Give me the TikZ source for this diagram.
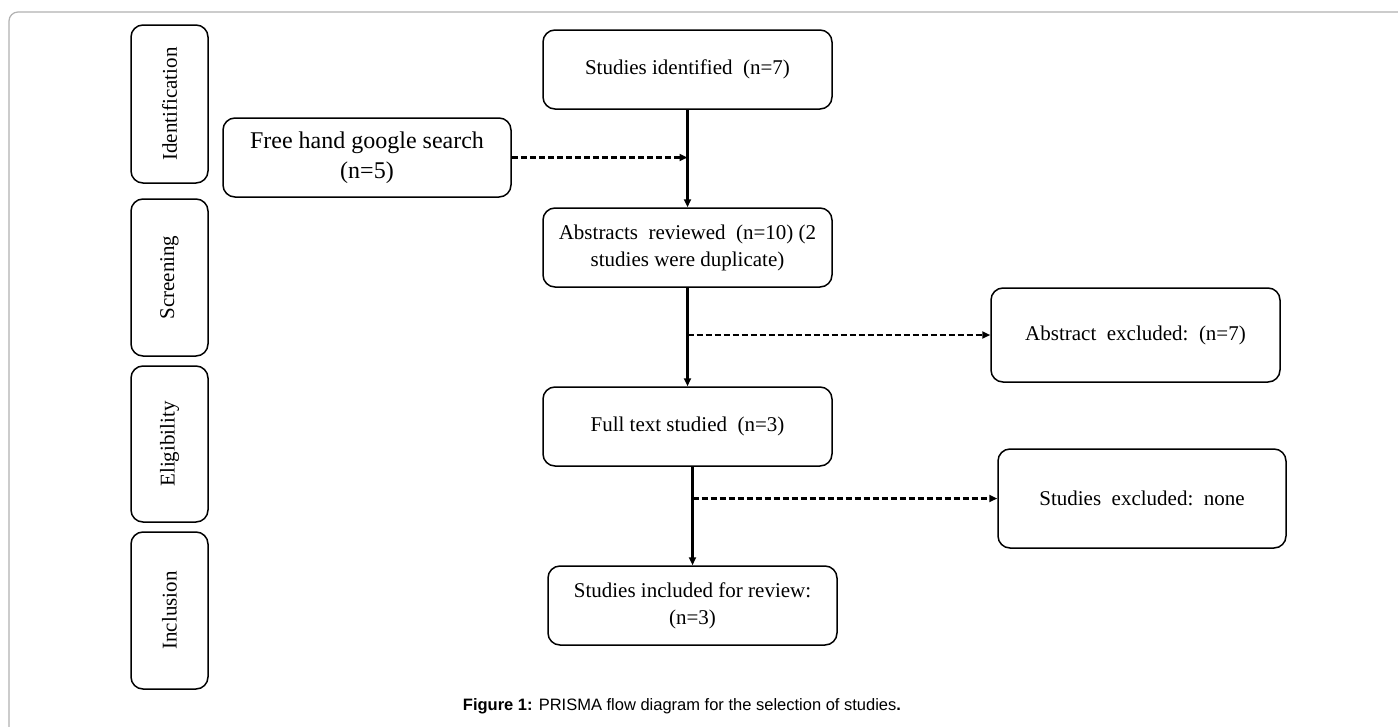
\documentclass[tikz,border=0pt]{standalone}
\usepackage{fontspec}
\setmainfont{Liberation Serif}
\newfontfamily\capfont{Liberation Sans}
\usetikzlibrary{arrows.meta,calc}
\tikzset{
  boxshape/.style={draw=black, line width=1.5pt, rounded corners=12pt, align=center, inner sep=2pt,
    font=\fontsize{21}{27}\selectfont},
  phase/.style={boxshape, minimum width=77pt},
  phasetext/.style={rotate=90, font=\fontsize{21}{27}\selectfont},
  flowline/.style={line width=2.3pt, -{Triangle[length=8pt,width=7pt]}},
  dashline/.style={line width=2.4pt, dash pattern=on 6pt off 3pt, -{Triangle[length=8pt,width=7pt]}}
}
\begin{document}
\begin{tikzpicture}[x=1pt,y=-1pt]
\useasboundingbox (0,0) rectangle (1398,726);
\fill[white] (0,0) rectangle (1398,726);
\draw[gray!60, line width=1.2pt, rounded corners=9pt] (9,12) rectangle (1430,760);

% phase boxes
\node[phase, minimum height=158pt] (pid) at (169.5,104) {};
\node[phasetext] (pidt) at (pid.center) {Identification};
\node[phase, minimum height=157pt] (pscr) at (169.5,277.5) {};
\node[phasetext] (pscrt) at (pscr.center) {Screening};
\node[phase, minimum height=156pt] (pel) at (169.5,444) {};
\node[phasetext] (pelt) at (pel.center) {Eligibility};
\node[phase, minimum height=157pt] (pin) at (169.5,610.5) {};
\node[phasetext] (pint) at (pin.center) {Inclusion};

% flow boxes
\node[boxshape, minimum width=288pt, minimum height=79pt, font=\fontsize{24}{30}\selectfont] (free) at (367,157.5) {Free hand google search\\(n=5)};
\node[boxshape, minimum width=289pt, minimum height=79pt] (ident) at (687.5,69.5) {Studies identified\ \ (n=7)};
\node[boxshape, minimum width=289pt, minimum height=79pt] (abs) at (687.5,247.5) {Abstracts\ \ reviewed\ \ (n=10)\ (2\\studies\ were\ duplicate)};
\node[boxshape, minimum width=289pt, minimum height=79pt] (full) at (687.5,426.5) {Full\ text\ studied\ \ (n=3)};
\node[boxshape, minimum width=289pt, minimum height=79pt] (incl) at (692.5,605.5) {Studies\ included\ for\ review:\\(n=3)};
\node[boxshape, minimum width=289pt, minimum height=94pt] (absex) at (1135.5,335) {Abstract\ \ excluded:\ \ (n=7)};
\node[boxshape, minimum width=288pt, minimum height=99pt] (stex) at (1142,498.5) {Studies\ \ excluded:\ \ none};

% connectors
\draw[flowline] (ident.south) -- (abs.north);
\draw[flowline] (abs.south) -- (full.north);
\draw[flowline] (full.south -| incl.north) -- (incl.north);
\draw[dashline] (free.east) -- (free.east -| ident.south);
\draw[dashline] (absex.west -| abs.south) -- (absex.west);
\draw[dashline] (stex.west -| incl.north) -- (stex.west);

% caption
\node[font=\capfont\fontsize{16.5}{19}\selectfont] (cap) at (682,706) {\textbf{Figure 1:} PRISMA flow diagram for the selection of studies\textbf{.}};
\end{tikzpicture}
\end{document}
